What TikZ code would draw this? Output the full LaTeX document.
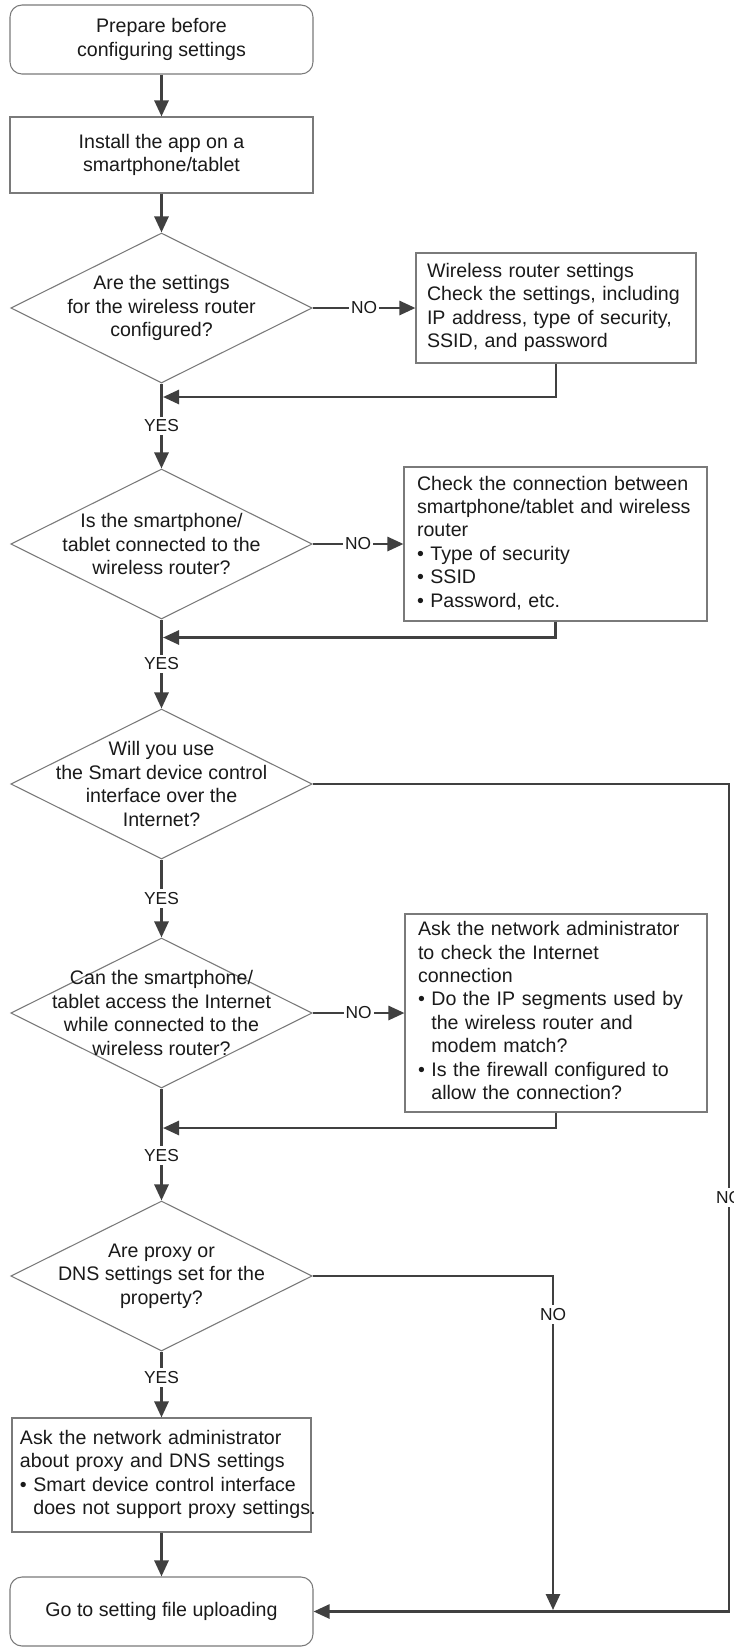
\documentclass[tikz,border=0pt]{standalone}
\usepackage{fontspec}
\setmainfont{Liberation Sans}
\usetikzlibrary{shapes.geometric,arrows.meta}
\definecolor{linec}{HTML}{404040}
\definecolor{boxc}{HTML}{7A7A7A}
\definecolor{txtc}{HTML}{1A1A1A}
\newcommand\mfs{\fontsize{14.7}{17.6}\selectfont}
\newcommand\lfs{\fontsize{13}{15}\selectfont}
\newcommand\ind{\phantom{•\ }}
\newcommand\tl[1]{\begin{tabular}{@{}l@{}}#1\end{tabular}}
\begin{document}
\begin{tikzpicture}[x=0.75pt,y=-0.75pt,
  conn/.style={draw=linec, line width=2pt},
  arr/.style={conn, -{Triangle[length=12pt,width=10.5pt]}},
  box/.style={draw=boxc, line width=0.8pt, rectangle, inner ysep=0pt, font=\mfs, text=txtc},
  cbox/.style={box, align=center, inner xsep=0pt, minimum width=227.25pt},
  rbox/.style={cbox, rounded corners=9pt},
  lbox/.style={box, align=left},
  dia/.style={draw=boxc, line width=0.8pt, diamond, inner sep=0pt, minimum width=226pt, minimum height=112.5pt},
  dtext/.style={align=center, font=\mfs, text=txtc, inner sep=0pt},
  lbl/.style={fill=white, font=\lfs, text=txtc, inner xsep=1.5pt, inner ysep=2.5pt}
]
\fill[white] (0,0) rectangle (733,1647);
\useasboundingbox (0,0) rectangle (733,1647);

% main column
\node[rbox, minimum height=51.75pt] (start) at (161.5,39.5) {Prepare before\\configuring settings};
\node[cbox, minimum height=57pt] (inst) at (161.5,155) {Install the app on a\\smartphone/tablet};
\node[dia, label={[dtext]center:{Are the settings\\for the wireless router\\configured?}}] (d1) at (161.5,308) {};
\node[dia, label={[dtext]center:{Is the smartphone/\\tablet connected to the\\wireless router?}}] (d2) at (161.5,544) {};
\node[dia, label={[dtext]center:{Will you use\\the Smart device control\\interface over the\\Internet?}}] (d3) at (161.5,784) {};
\node[dia, label={[dtext]center:{Can the smartphone/\\tablet access the Internet\\while connected to the\\wireless router?}}] (d4) at (161.5,1013) {};
\node[dia, label={[dtext]center:{Are proxy or\\DNS settings set for the\\property?}}] (d5) at (161.5,1276) {};
\node[lbox, minimum width=224.25pt, text width=212.25pt, inner xsep=6pt, minimum height=85.5pt] (b5) at (161.5,1475)
  {\tl{Ask the network administrator\\about proxy and DNS settings\\• Smart device control interface\\\ind does not support proxy settings.}};
\node[rbox, minimum height=51.75pt] (end) at (161.5,1611.5) {Go to setting file uploading};

% side boxes
\node[lbox, minimum width=210pt, text width=193.5pt, inner xsep=8.25pt, minimum height=82.5pt] (s1) at (556,308)
  {\tl{Wireless router settings\\Check the settings, including\\IP address, type of security,\\SSID, and password}};
\node[lbox, minimum width=227.25pt, text width=207.75pt, inner xsep=9.75pt, minimum height=115.5pt] (s2) at (555.5,544)
  {\tl{Check the connection between\\smartphone/tablet and wireless\\router\\• Type of security\\• SSID\\• Password, etc.}};
\node[lbox, minimum width=226.5pt, text width=207pt, inner xsep=9.75pt, minimum height=148.5pt] (s4) at (556,1013)
  {\tl{Ask the network administrator\\to check the Internet\\connection\\• Do the IP segments used by\\\ind the wireless router and\\\ind modem match?\\• Is the firewall configured to\\\ind allow the connection?}};

% junction coordinates
\coordinate (j1) at (163,397);
\coordinate (j2) at (163,637.5);
\coordinate (j4) at (163,1128);
\coordinate (r1) at (729,784);
\coordinate (r2) at (729,1611.5);
\coordinate (q1) at (553,1276);
\coordinate (q2) at (553,1610);

% connectors
\draw[arr] (start) -- (inst);
\draw[arr] (inst) -- (d1);
\draw[arr] (d1) -- node[lbl]{NO} (s1);
\draw[arr] (s1.south) |- (j1);
\draw[arr] (d1) -- node[lbl]{YES} (d2);
\draw[arr] (d2) -- node[lbl]{NO} (s2);
\draw[arr] (s2.south) |- (j2);
\draw[arr] (d2) -- node[lbl]{YES} (d3);
\draw[arr] (d3.east) -- (r1) -- node[lbl,pos=0.5]{NO} (r2) -- (end.east);
\draw[arr] (d3) -- node[lbl]{YES} (d4);
\draw[arr] (d4) -- node[lbl]{NO} (s4);
\draw[arr] (s4.south) |- (j4);
\draw[arr] (d4) -- node[lbl,pos=0.6]{YES} (d5);
\draw[arr] (d5.east) -- (q1) -- node[lbl,pos=0.115]{NO} (q2);
\draw[arr] (d5) -- node[lbl,pos=0.39]{YES} (b5);
\draw[arr] (b5) -- (end);
\end{tikzpicture}
\end{document}
